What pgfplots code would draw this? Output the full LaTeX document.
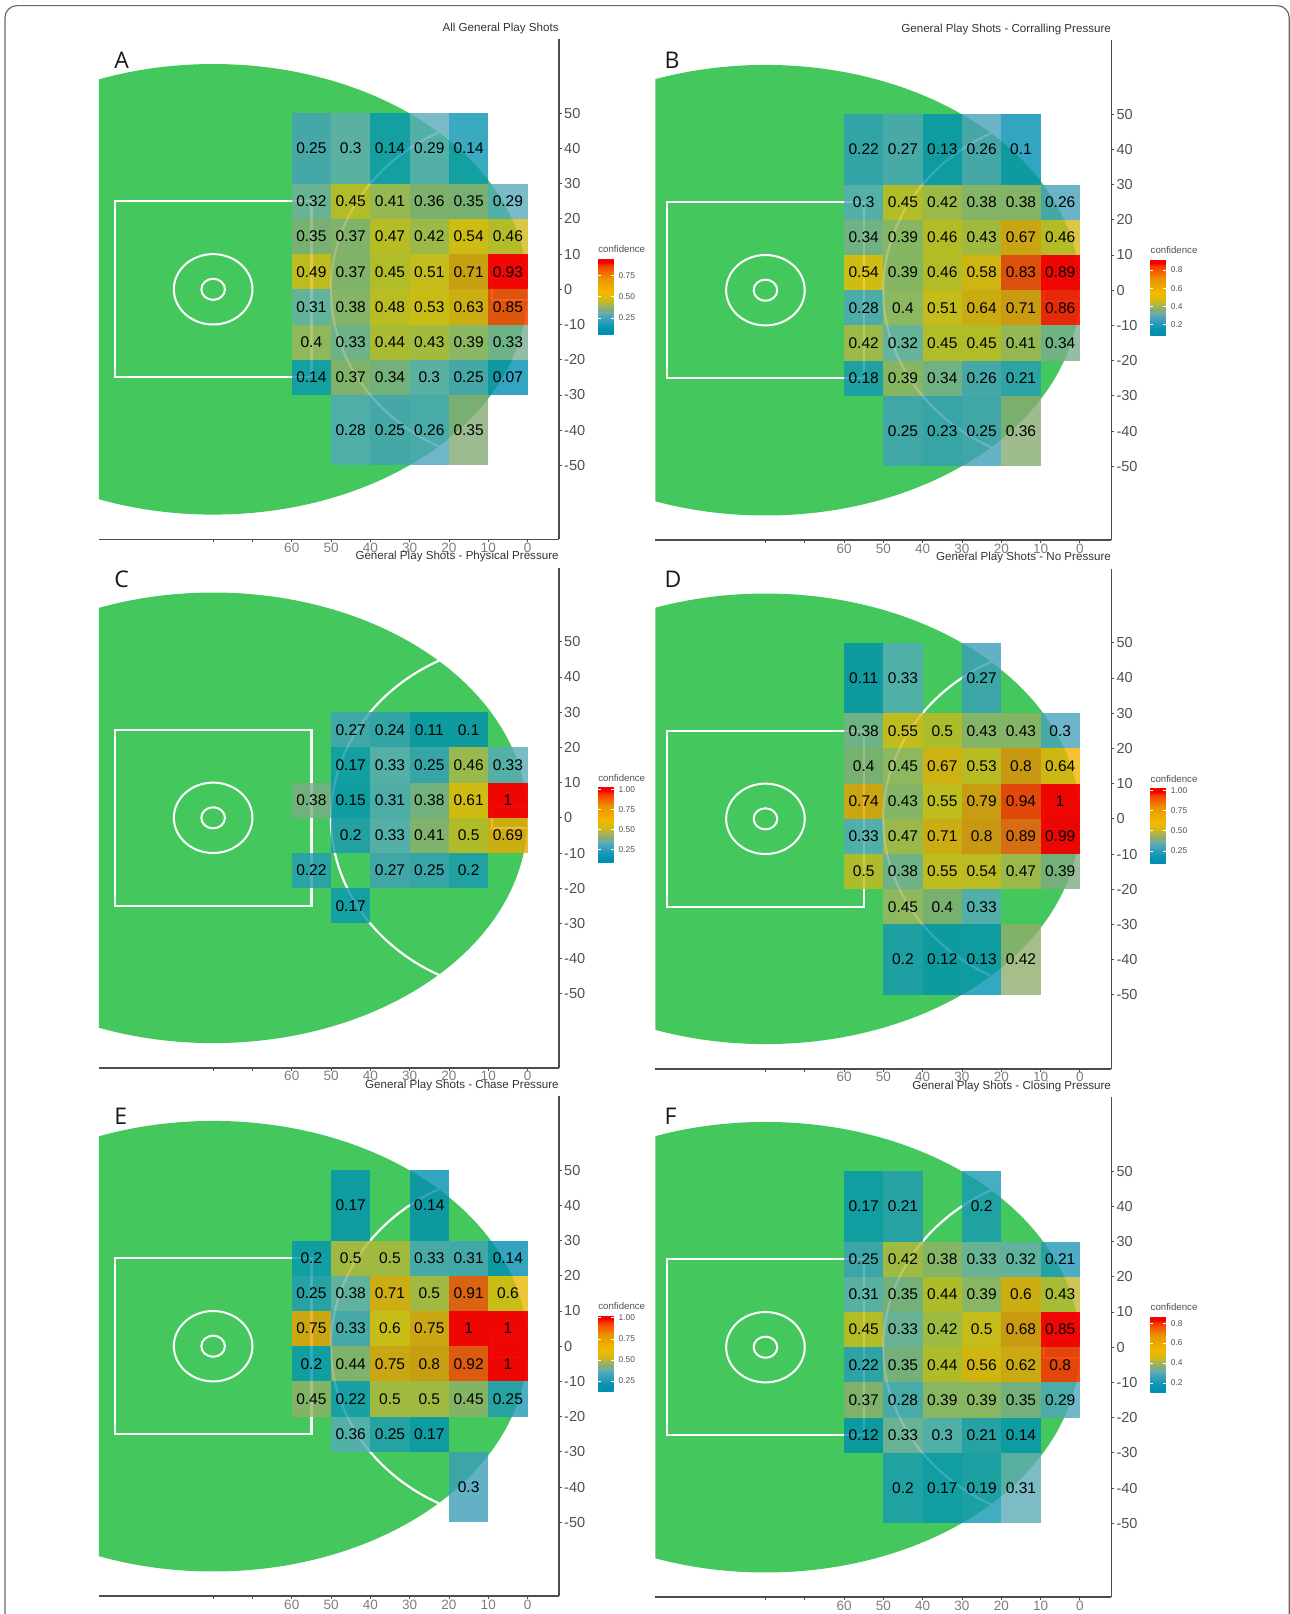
\documentclass[border=0pt]{standalone}
\usepackage{fontspec}
\setmainfont{Liberation Sans}
\newfontfamily\letterfont{Open Sans}
\usepackage{pgfplots}
\pgfplotsset{compat=1.18}

% 1 px of the reference = 0.5pt
\newcommand\fs[1]{\fontsize{#1}{#1}\selectfont}
\definecolor{pitch}{RGB}{68,200,94}
\definecolor{spine}{RGB}{77,77,77}
\definecolor{ticktext}{RGB}{80,80,80}
\definecolor{xtext}{RGB}{125,125,125}

\pgfdeclareplotmark{tile}{\pgfpathrectangle{\pgfpoint{-9.825pt}{-8.8pt}}{\pgfpoint{19.65pt}{17.6pt}}\pgfusepathqfill}
\pgfdeclareplotmark{talltile}{\pgfpathrectangle{\pgfpoint{-9.825pt}{-17.6pt}}{\pgfpoint{19.65pt}{35.2pt}}\pgfusepathqfill}

\pgfplotsset{
  colormap={confidence}{
    rgb255(0)=(0,141,176) rgb255(8)=(2,148,177) rgb255(21)=(68,160,186)
    rgb255(26)=(86,170,186) rgb255(29)=(113,175,167) rgb255(33)=(133,170,116)
    rgb255(38)=(158,180,97) rgb255(44)=(203,185,27) rgb255(55)=(243,185,0)
    rgb255(74)=(233,150,0) rgb255(85)=(250,88,0) rgb255(91)=(245,55,0)
    rgb255(95)=(238,0,0) rgb255(100)=(255,0,0)
  },
  % the reds of the reference cover the pitch almost fully, the rest lets it show
  tiles/.style={
    scatter, only marks, mark=#1, point meta=explicit,
    scatter/use mapped color={draw=none,fill=mapped color,
      /utils/exec={\pgfmathsetmacro\tileop{\pgfplotspointmetatransformed<850 ? 0.8 : min(0.97,0.8+(\pgfplotspointmetatransformed-850)*0.0017)}},
      fill opacity=\tileop},
    nodes near coords*,
    nodes near coords style={anchor=center,inner sep=0pt,font=\fs{7.75},text=black,
      fill opacity=1,text opacity=1,
      /pgf/number format/fixed,/pgf/number format/precision=2,
      /pgf/number format/assume math mode=true},
  },
}
\newcommand\tile[1]{\addplot[tiles=tile] coordinates {#1};}
\newcommand\talltile[1]{\addplot[tiles=talltile] coordinates {#1};}
\newcommand\panelletter[3]{\node[anchor=base west,inner sep=0pt,font=\letterfont\fs{11.5},text=black!90] at ({#1*0.5pt},{-#2*0.5pt}) {#3};}

% #1 left px, #2 top px, #3 width px, #4/#5 colour range, #6 bar ticks, #7 title, #8 tiles
\newcommand\panel[8]{
\begin{axis}[
  at={({#1*0.5pt},{-#2*0.5pt})}, anchor=north west,
  scale only axis, width={#3*0.5pt}, height=250pt,
  x dir=reverse, xmin=-8, xmax={#3/3.93-8}, ymin=-71, ymax=71,
  axis y line=right, axis x line=bottom,
  axis line style={-,color=spine,line width=0.75pt},
  tick align=outside, major tick length=1.5pt,
  tick style={color=spine,line width=0.4pt},
  xtick={0,10,20,30,40,50,60,70,80}, xticklabels={0,10,20,30,40,50,60,,},
  ytick={-50,-40,-30,-20,-10,0,10,20,30,40,50},
  yticklabels={-50,-40,-30,-20,-10,0,10,20,30,40,50},
  xticklabel style={font=\fs{6.75},text=xtext,inner sep=0pt,yshift=0pt},
  yticklabel style={font=\fs{7.25},text=ticktext,inner sep=0pt,anchor=west,xshift=0.9pt},
  colormap name=confidence, point meta min=#4, point meta max=#5,
  colorbar,
  colorbar style={
    at={(parent axis.north east)}, anchor=north west,
    xshift=11pt, yshift=-109.5pt, scale only axis, width=7.75pt, height=38pt,
    axis line style={draw=none},
    ytick={#6}, yticklabels={#6}, yticklabel pos=right, ytick pos=both,
    tick align=inside, major tick length=1.5pt,
    ytick style={color=white,line width=0.25pt},
    yticklabel style={font=\fs{4.2},text=ticktext,inner sep=0pt,xshift=2.3pt},
  },
]
  \fill[pitch] (axis cs:80,0) ellipse[x radius=157.2pt,y radius=112.64pt];
  \draw[white,line width=1.1pt] (axis cs:55,-25) rectangle (axis cs:105,25);
  \draw[white,line width=1pt] (axis cs:80,0) ellipse[x radius=19.65pt,y radius=17.6pt];
  \draw[white,line width=1pt] (axis cs:80,0) ellipse[x radius=5.9pt,y radius=5.28pt];
  \draw[white,line width=1.1pt] (axis cs:22.5,44.65) arc[start angle=116.7,end angle=243.3,x radius=98.25pt,y radius=88pt];
  \draw[white,line width=1pt] (axis cs:0,-3) rectangle (axis cs:9,3);
  #8
\end{axis}
\node[anchor=base east,inner sep=0pt,font=\fs{5.8},text=black!80] at ({(#1+#3)*0.5pt},{-(#2-8)*0.5pt}) {#7};
\node[anchor=base west,inner sep=0pt,font=\fs{4.83},text=ticktext] at ({(#1+#3+39)*0.5pt},{-(#2+213.5)*0.5pt}) {confidence};
}

\begin{document}
\begin{tikzpicture}
\path[use as bounding box] (0,0) rectangle (645pt,-807pt);
\draw[color=spine!85,line width=0.6pt,rounded corners=6pt] (2.5pt,-2.8pt) rectangle (644.6pt,-900pt);

\panel{99}{39.3}{460}{0.056}{0.951}{0.25,0.50,0.75}{All General Play Shots}{
  \talltile{(55,40)[.25](45,40)[.3](35,40)[.14](25,40)[.29](15,40)[.14]
    (45,-40)[.28](35,-40)[.25](25,-40)[.26](15,-40)[.35]}
  \tile{(55,25)[.32](45,25)[.45](35,25)[.41](25,25)[.36](15,25)[.35](5,25)[.29]
    (55,15)[.35](45,15)[.37](35,15)[.47](25,15)[.42](15,15)[.54](5,15)[.46]
    (55,5)[.49](45,5)[.37](35,5)[.45](25,5)[.51](15,5)[.71](5,5)[.93]
    (55,-5)[.31](45,-5)[.38](35,-5)[.48](25,-5)[.53](15,-5)[.63](5,-5)[.85]
    (55,-15)[.4](45,-15)[.33](35,-15)[.44](25,-15)[.43](15,-15)[.39](5,-15)[.33]
    (55,-25)[.14](45,-25)[.37](35,-25)[.34](25,-25)[.3](15,-25)[.25](5,-25)[.07]}
}
\panel{655.3}{40.2}{456}{0.08}{0.92}{0.2,0.4,0.6,0.8}{General Play Shots - Corralling Pressure}{
  \talltile{(55,40)[.22](45,40)[.27](35,40)[.13](25,40)[.26](15,40)[.1]
    (45,-40)[.25](35,-40)[.23](25,-40)[.25](15,-40)[.36]}
  \tile{(55,25)[.3](45,25)[.45](35,25)[.42](25,25)[.38](15,25)[.38](5,25)[.26]
    (55,15)[.34](45,15)[.39](35,15)[.46](25,15)[.43](15,15)[.67](5,15)[.46]
    (55,5)[.54](45,5)[.39](35,5)[.46](25,5)[.58](15,5)[.83](5,5)[.89]
    (55,-5)[.28](45,-5)[.4](35,-5)[.51](25,-5)[.64](15,-5)[.71](5,-5)[.86]
    (55,-15)[.42](45,-15)[.32](35,-15)[.45](25,-15)[.45](15,-15)[.41](5,-15)[.34]
    (55,-25)[.18](45,-25)[.39](35,-25)[.34](25,-25)[.26](15,-25)[.21]}
}
\panel{99}{567.8}{460}{0.08}{1.03}{0.25,0.50,0.75,1.00}{General Play Shots - Physical Pressure}{
  \tile{(45,25)[.27](35,25)[.24](25,25)[.11](15,25)[.1]
    (45,15)[.17](35,15)[.33](25,15)[.25](15,15)[.46](5,15)[.33]
    (55,5)[.38](45,5)[.15](35,5)[.31](25,5)[.38](15,5)[.61](5,5)[1]
    (45,-5)[.2](35,-5)[.33](25,-5)[.41](15,-5)[.5](5,-5)[.69]
    (55,-15)[.22](35,-15)[.27](25,-15)[.25](15,-15)[.2]
    (45,-25)[.17]}
}
\panel{655.3}{568.8}{456}{0.09}{1.03}{0.25,0.50,0.75,1.00}{General Play Shots - No Pressure}{
  \talltile{(55,40)[.11](45,40)[.33](25,40)[.27]
    (45,-40)[.2](35,-40)[.12](25,-40)[.13](15,-40)[.42]}
  \tile{(55,25)[.38](45,25)[.55](35,25)[.5](25,25)[.43](15,25)[.43](5,25)[.3]
    (55,15)[.4](45,15)[.45](35,15)[.67](25,15)[.53](15,15)[.8](5,15)[.64]
    (55,5)[.74](45,5)[.43](35,5)[.55](25,5)[.79](15,5)[.94](5,5)[1]
    (55,-5)[.33](45,-5)[.47](35,-5)[.71](25,-5)[.8](15,-5)[.89](5,-5)[.99]
    (55,-15)[.5](45,-15)[.38](35,-15)[.55](25,-15)[.54](15,-15)[.47](5,-15)[.39]
    (45,-25)[.45](35,-25)[.4](25,-25)[.33]}
}
\panel{99}{1096.2}{460}{0.126}{1.03}{0.25,0.50,0.75,1.00}{General Play Shots - Chase Pressure}{
  \talltile{(45,40)[.17](25,40)[.14](15,-40)[.3]}
  \tile{(55,25)[.2](45,25)[.5](35,25)[.5](25,25)[.33](15,25)[.31](5,25)[.14]
    (55,15)[.25](45,15)[.38](35,15)[.71](25,15)[.5](15,15)[.91](5,15)[.6]
    (55,5)[.75](45,5)[.33](35,5)[.6](25,5)[.75](15,5)[1](5,5)[1]
    (55,-5)[.2](45,-5)[.44](35,-5)[.75](25,-5)[.8](15,-5)[.92](5,-5)[1]
    (55,-15)[.45](45,-15)[.22](35,-15)[.5](25,-15)[.5](15,-15)[.45](5,-15)[.25]
    (45,-25)[.36](35,-25)[.25](25,-25)[.17]}
}
\panel{655.3}{1097.2}{456}{0.105}{0.87}{0.2,0.4,0.6,0.8}{General Play Shots - Closing Pressure}{
  \talltile{(55,40)[.17](45,40)[.21](25,40)[.2]
    (45,-40)[.2](35,-40)[.17](25,-40)[.19](15,-40)[.31]}
  \tile{(55,25)[.25](45,25)[.42](35,25)[.38](25,25)[.33](15,25)[.32](5,25)[.21]
    (55,15)[.31](45,15)[.35](35,15)[.44](25,15)[.39](15,15)[.6](5,15)[.43]
    (55,5)[.45](45,5)[.33](35,5)[.42](25,5)[.5](15,5)[.68](5,5)[.85]
    (55,-5)[.22](45,-5)[.35](35,-5)[.44](25,-5)[.56](15,-5)[.62](5,-5)[.8]
    (55,-15)[.37](45,-15)[.28](35,-15)[.39](25,-15)[.39](15,-15)[.35](5,-15)[.29]
    (55,-25)[.12](45,-25)[.33](35,-25)[.3](25,-25)[.21](15,-25)[.14]}
}
\panelletter{114}{68}{A}
\panelletter{664.3}{68}{B}
\panelletter{114}{587.3}{C}
\panelletter{664.3}{587.3}{D}
\panelletter{114}{1124.8}{E}
\panelletter{664.3}{1124.5}{F}
\end{tikzpicture}
\end{document}
